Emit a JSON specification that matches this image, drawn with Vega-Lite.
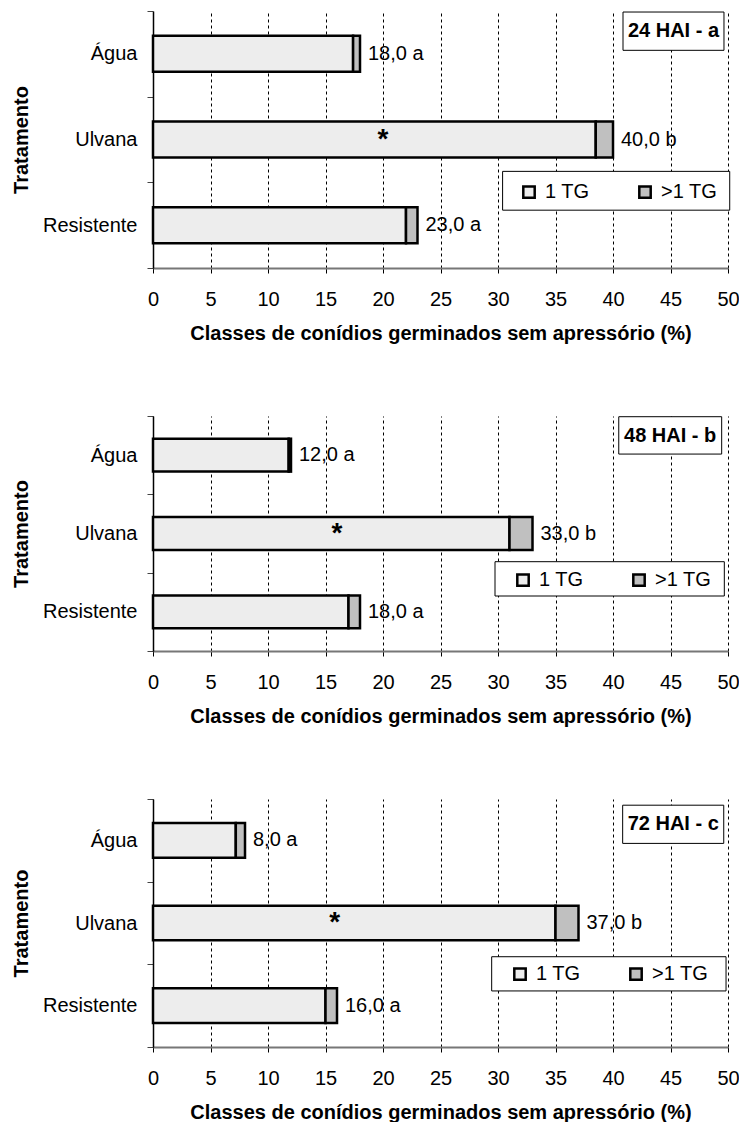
{
  "$schema": "https://vega.github.io/schema/vega-lite/v6.json",
  "padding": {"left": 11, "top": 1, "right": 0, "bottom": 0},
  "autosize": {"type": "pad"},
  "background": "white",
  "config": {
    "font": "Liberation Sans",
    "view": {"stroke": null},
    "axisX": {
      "grid": true, "gridDash": [3, 3], "gridColor": "black", "gridWidth": 1, "gridOpacity": 1,
      "values": [0, 5, 10, 15, 20, 25, 30, 35, 40, 45, 50],
      "domainColor": "#777777", "domainWidth": 2, "tickColor": "black", "tickSize": 5,
      "labelFontSize": 20, "labelPadding": 16, "labelColor": "black", "labelFlush": false,
      "titleFontSize": 20, "titleFontWeight": "bold", "titlePadding": 14, "titleColor": "black"
    },
    "axisY": {
      "grid": false, "domainColor": "black", "domainWidth": 1.5, "tickColor": "#444444", "tickSize": 6,
      "tickBand": "extent", "labelFontSize": 20, "labelPadding": 10, "labelColor": "black",
      "titleFontSize": 20, "titleFontWeight": "bold", "titlePadding": 11, "titleColor": "black"
    },
    "legend": {
      "orient": "none", "direction": "horizontal", "title": null, "symbolType": "square",
      "symbolSize": 130, "symbolStrokeColor": "black", "symbolStrokeWidth": 2.5,
      "labelFontSize": 20, "labelOffset": 6, "columnPadding": 44, "padding": 0, "labelColor": "black"
    }
  },
  "datasets": {
    "barras": [
      {"painel": "24 HAI - a", "tratamento": "Água", "classe": "1 TG", "valor": 17.4},
      {"painel": "24 HAI - a", "tratamento": "Água", "classe": ">1 TG", "valor": 0.6},
      {"painel": "24 HAI - a", "tratamento": "Ulvana", "classe": "1 TG", "valor": 38.5},
      {"painel": "24 HAI - a", "tratamento": "Ulvana", "classe": ">1 TG", "valor": 1.5},
      {"painel": "24 HAI - a", "tratamento": "Resistente", "classe": "1 TG", "valor": 22.0},
      {"painel": "24 HAI - a", "tratamento": "Resistente", "classe": ">1 TG", "valor": 1.0},
      {"painel": "48 HAI - b", "tratamento": "Água", "classe": "1 TG", "valor": 11.8},
      {"painel": "48 HAI - b", "tratamento": "Água", "classe": ">1 TG", "valor": 0.2},
      {"painel": "48 HAI - b", "tratamento": "Ulvana", "classe": "1 TG", "valor": 31.0},
      {"painel": "48 HAI - b", "tratamento": "Ulvana", "classe": ">1 TG", "valor": 2.0},
      {"painel": "48 HAI - b", "tratamento": "Resistente", "classe": "1 TG", "valor": 17.0},
      {"painel": "48 HAI - b", "tratamento": "Resistente", "classe": ">1 TG", "valor": 1.0},
      {"painel": "72 HAI - c", "tratamento": "Água", "classe": "1 TG", "valor": 7.2},
      {"painel": "72 HAI - c", "tratamento": "Água", "classe": ">1 TG", "valor": 0.8},
      {"painel": "72 HAI - c", "tratamento": "Ulvana", "classe": "1 TG", "valor": 35.0},
      {"painel": "72 HAI - c", "tratamento": "Ulvana", "classe": ">1 TG", "valor": 2.0},
      {"painel": "72 HAI - c", "tratamento": "Resistente", "classe": "1 TG", "valor": 15.0},
      {"painel": "72 HAI - c", "tratamento": "Resistente", "classe": ">1 TG", "valor": 1.0}
    ],
    "rotulos": [
      {"painel": "24 HAI - a", "tratamento": "Água", "total": 18.0, "rotulo": "18,0 a"},
      {"painel": "24 HAI - a", "tratamento": "Ulvana", "total": 40.0, "rotulo": "40,0 b"},
      {"painel": "24 HAI - a", "tratamento": "Resistente", "total": 23.0, "rotulo": "23,0 a"},
      {"painel": "48 HAI - b", "tratamento": "Água", "total": 12.0, "rotulo": "12,0 a"},
      {"painel": "48 HAI - b", "tratamento": "Ulvana", "total": 33.0, "rotulo": "33,0 b"},
      {"painel": "48 HAI - b", "tratamento": "Resistente", "total": 18.0, "rotulo": "18,0 a"},
      {"painel": "72 HAI - c", "tratamento": "Água", "total": 8.0, "rotulo": "8,0 a"},
      {"painel": "72 HAI - c", "tratamento": "Ulvana", "total": 37.0, "rotulo": "37,0 b"},
      {"painel": "72 HAI - c", "tratamento": "Resistente", "total": 16.0, "rotulo": "16,0 a"}
    ],
    "asteriscos": [
      {"painel": "24 HAI - a", "tratamento": "Ulvana", "posicao": 20.0, "marca": "*"},
      {"painel": "48 HAI - b", "tratamento": "Ulvana", "posicao": 16.0, "marca": "*"},
      {"painel": "72 HAI - c", "tratamento": "Ulvana", "posicao": 15.8, "marca": "*"}
    ],
    "titulos": [
      {"painel": "24 HAI - a"},
      {"painel": "48 HAI - b"},
      {"painel": "72 HAI - c"}
    ]
  },
  "spacing": 63,
  "resolve": {"scale": {"color": "independent"}, "legend": {"color": "independent"}},
  "vconcat": [
    {
      "width": 575, "height": 257,
      "resolve": {"scale": {"y": "independent"}},
      "layer": [
        {
          "layer": [
            {
              "data": {"name": "barras"},
              "transform": [{"filter": "datum.painel == '24 HAI - a'"}],
              "mark": {"type": "bar", "stroke": "black", "strokeWidth": 2.5, "height": {"band": 0.42}},
              "encoding": {
                "y": {"field": "tratamento", "type": "nominal", "sort": ["Água", "Ulvana", "Resistente"], "scale": {"paddingInner": 0, "paddingOuter": 0}, "title": "Tratamento"},
                "x": {"field": "valor", "type": "quantitative", "stack": "zero", "scale": {"domain": [0, 50], "nice": false}, "title": "Classes de conídios germinados sem apressório (%)"},
                "color": {"field": "classe", "type": "nominal", "scale": {"domain": ["1 TG", ">1 TG"], "range": ["#ededed", "#c0c0c0"]}, "legend": {"legendX": 366, "legendY": 171, "labelFontSize": 20}},
                "order": {"field": "classe", "sort": "ascending"}
              }
            },
            {
              "data": {"name": "rotulos"},
              "transform": [{"filter": "datum.painel == '24 HAI - a'"}],
              "mark": {"type": "text", "align": "left", "baseline": "middle", "dx": 8, "fontSize": 20, "color": "black"},
              "encoding": {
                "y": {"field": "tratamento", "type": "nominal", "sort": ["Água", "Ulvana", "Resistente"]},
                "x": {"field": "total", "type": "quantitative"},
                "text": {"field": "rotulo"}
              }
            },
            {
              "data": {"name": "asteriscos"},
              "transform": [{"filter": "datum.painel == '24 HAI - a'"}],
              "mark": {"type": "text", "align": "center", "baseline": "middle", "dy": 0, "fontSize": 28, "fontWeight": "bold", "color": "black"},
              "encoding": {
                "y": {"field": "tratamento", "type": "nominal", "sort": ["Água", "Ulvana", "Resistente"]},
                "x": {"field": "posicao", "type": "quantitative"},
                "text": {"field": "marca"}
              }
            }
          ]
        },
        {
          "data": {"name": "titulos"},
          "transform": [{"filter": "datum.painel == '24 HAI - a'"}],
          "layer": [
            {
              "mark": {"type": "rect", "fill": "white", "stroke": "black", "strokeWidth": 1},
              "encoding": {
                "x": {"datum": 40.87, "type": "quantitative", "scale": {"domain": [0, 50], "nice": false}, "title": "Classes de conídios germinados sem apressório (%)"},
                "x2": {"datum": 49.65},
                "y": {"datum": 0.004, "type": "quantitative", "scale": {"domain": [0, 1], "reverse": true, "nice": false}, "axis": null},
                "y2": {"datum": 0.153}
              }
            },
            {
              "mark": {"type": "text", "align": "center", "baseline": "middle", "fontSize": 20, "fontWeight": "bold", "color": "black"},
              "encoding": {
                "x": {"datum": 45.26, "type": "quantitative"},
                "y": {"datum": 0.079, "type": "quantitative"},
                "text": {"field": "painel"}
              }
            },
            {
              "mark": {"type": "rect", "fill": "white", "stroke": "black", "strokeWidth": 1},
              "encoding": {
                "x": {"datum": 30.4, "type": "quantitative"},
                "x2": {"datum": 50.15},
                "y": {"datum": 0.624, "type": "quantitative"},
                "y2": {"datum": 0.775}
              }
            }
          ]
        }
      ]
    },
    {
      "width": 575, "height": 235,
      "resolve": {"scale": {"y": "independent"}},
      "layer": [
        {
          "layer": [
            {
              "data": {"name": "barras"},
              "transform": [{"filter": "datum.painel == '48 HAI - b'"}],
              "mark": {"type": "bar", "stroke": "black", "strokeWidth": 2.5, "height": {"band": 0.42}},
              "encoding": {
                "y": {"field": "tratamento", "type": "nominal", "sort": ["Água", "Ulvana", "Resistente"], "scale": {"paddingInner": 0, "paddingOuter": 0}, "title": "Tratamento"},
                "x": {"field": "valor", "type": "quantitative", "stack": "zero", "scale": {"domain": [0, 50], "nice": false}, "title": "Classes de conídios germinados sem apressório (%)"},
                "color": {"field": "classe", "type": "nominal", "scale": {"domain": ["1 TG", ">1 TG"], "range": ["#ededed", "#c0c0c0"]}, "legend": {"legendX": 360, "legendY": 154, "labelFontSize": 20}},
                "order": {"field": "classe", "sort": "ascending"}
              }
            },
            {
              "data": {"name": "rotulos"},
              "transform": [{"filter": "datum.painel == '48 HAI - b'"}],
              "mark": {"type": "text", "align": "left", "baseline": "middle", "dx": 8, "fontSize": 20, "color": "black"},
              "encoding": {
                "y": {"field": "tratamento", "type": "nominal", "sort": ["Água", "Ulvana", "Resistente"]},
                "x": {"field": "total", "type": "quantitative"},
                "text": {"field": "rotulo"}
              }
            },
            {
              "data": {"name": "asteriscos"},
              "transform": [{"filter": "datum.painel == '48 HAI - b'"}],
              "mark": {"type": "text", "align": "center", "baseline": "middle", "dy": 0, "fontSize": 28, "fontWeight": "bold", "color": "black"},
              "encoding": {
                "y": {"field": "tratamento", "type": "nominal", "sort": ["Água", "Ulvana", "Resistente"]},
                "x": {"field": "posicao", "type": "quantitative"},
                "text": {"field": "marca"}
              }
            }
          ]
        },
        {
          "data": {"name": "titulos"},
          "transform": [{"filter": "datum.painel == '48 HAI - b'"}],
          "layer": [
            {
              "mark": {"type": "rect", "fill": "white", "stroke": "black", "strokeWidth": 1},
              "encoding": {
                "x": {"datum": 40.5, "type": "quantitative", "scale": {"domain": [0, 50], "nice": false}, "title": "Classes de conídios germinados sem apressório (%)"},
                "x2": {"datum": 49.45},
                "y": {"datum": 0.003, "type": "quantitative", "scale": {"domain": [0, 1], "reverse": true, "nice": false}, "axis": null},
                "y2": {"datum": 0.162}
              }
            },
            {
              "mark": {"type": "text", "align": "center", "baseline": "middle", "fontSize": 20, "fontWeight": "bold", "color": "black"},
              "encoding": {
                "x": {"datum": 44.97, "type": "quantitative"},
                "y": {"datum": 0.083, "type": "quantitative"},
                "text": {"field": "painel"}
              }
            },
            {
              "mark": {"type": "rect", "fill": "white", "stroke": "black", "strokeWidth": 1},
              "encoding": {
                "x": {"datum": 29.74, "type": "quantitative"},
                "x2": {"datum": 49.68},
                "y": {"datum": 0.62, "type": "quantitative"},
                "y2": {"datum": 0.766}
              }
            }
          ]
        }
      ]
    },
    {
      "width": 575, "height": 248,
      "resolve": {"scale": {"y": "independent"}},
      "layer": [
        {
          "layer": [
            {
              "data": {"name": "barras"},
              "transform": [{"filter": "datum.painel == '72 HAI - c'"}],
              "mark": {"type": "bar", "stroke": "black", "strokeWidth": 2.5, "height": {"band": 0.42}},
              "encoding": {
                "y": {"field": "tratamento", "type": "nominal", "sort": ["Água", "Ulvana", "Resistente"], "scale": {"paddingInner": 0, "paddingOuter": 0}, "title": "Tratamento"},
                "x": {"field": "valor", "type": "quantitative", "stack": "zero", "scale": {"domain": [0, 50], "nice": false}, "title": "Classes de conídios germinados sem apressório (%)"},
                "color": {"field": "classe", "type": "nominal", "scale": {"domain": ["1 TG", ">1 TG"], "range": ["#ededed", "#c0c0c0"]}, "legend": {"legendX": 357, "legendY": 165, "labelFontSize": 20}},
                "order": {"field": "classe", "sort": "ascending"}
              }
            },
            {
              "data": {"name": "rotulos"},
              "transform": [{"filter": "datum.painel == '72 HAI - c'"}],
              "mark": {"type": "text", "align": "left", "baseline": "middle", "dx": 8, "fontSize": 20, "color": "black"},
              "encoding": {
                "y": {"field": "tratamento", "type": "nominal", "sort": ["Água", "Ulvana", "Resistente"]},
                "x": {"field": "total", "type": "quantitative"},
                "text": {"field": "rotulo"}
              }
            },
            {
              "data": {"name": "asteriscos"},
              "transform": [{"filter": "datum.painel == '72 HAI - c'"}],
              "mark": {"type": "text", "align": "center", "baseline": "middle", "dy": 0, "fontSize": 28, "fontWeight": "bold", "color": "black"},
              "encoding": {
                "y": {"field": "tratamento", "type": "nominal", "sort": ["Água", "Ulvana", "Resistente"]},
                "x": {"field": "posicao", "type": "quantitative"},
                "text": {"field": "marca"}
              }
            }
          ]
        },
        {
          "data": {"name": "titulos"},
          "transform": [{"filter": "datum.painel == '72 HAI - c'"}],
          "layer": [
            {
              "mark": {"type": "rect", "fill": "white", "stroke": "black", "strokeWidth": 1},
              "encoding": {
                "x": {"datum": 40.84, "type": "quantitative", "scale": {"domain": [0, 50], "nice": false}, "title": "Classes de conídios germinados sem apressório (%)"},
                "x2": {"datum": 49.63},
                "y": {"datum": 0.025, "type": "quantitative", "scale": {"domain": [0, 1], "reverse": true, "nice": false}, "axis": null},
                "y2": {"datum": 0.179}
              }
            },
            {
              "mark": {"type": "text", "align": "center", "baseline": "middle", "fontSize": 20, "fontWeight": "bold", "color": "black"},
              "encoding": {
                "x": {"datum": 45.24, "type": "quantitative"},
                "y": {"datum": 0.102, "type": "quantitative"},
                "text": {"field": "painel"}
              }
            },
            {
              "mark": {"type": "rect", "fill": "white", "stroke": "black", "strokeWidth": 1},
              "encoding": {
                "x": {"datum": 29.45, "type": "quantitative"},
                "x2": {"datum": 49.83},
                "y": {"datum": 0.636, "type": "quantitative"},
                "y2": {"datum": 0.774}
              }
            }
          ]
        }
      ]
    }
  ]
}
